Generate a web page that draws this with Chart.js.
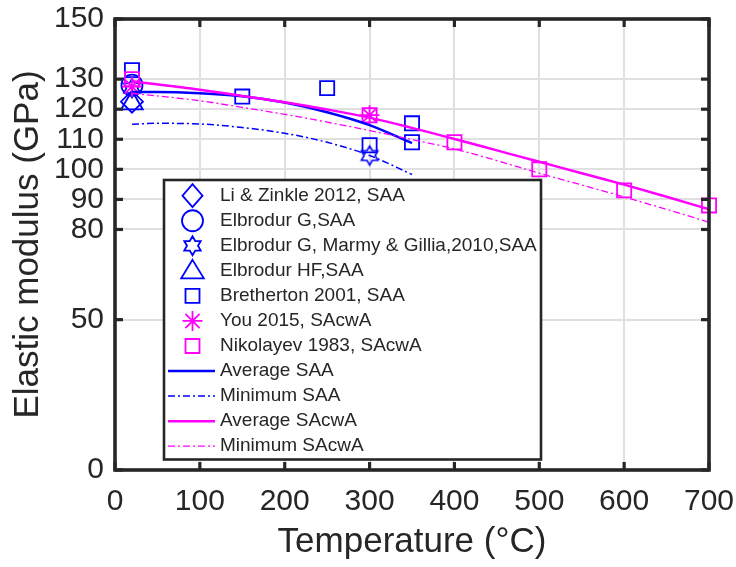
<!DOCTYPE html>
<html><head><meta charset="utf-8">
<script src="https://cdn.jsdelivr.net/npm/chart.js@4.4.0/dist/chart.umd.min.js"></script>
<style>html,body{margin:0;padding:0;background:#fff}#wrap{width:736px;height:567px}</style>
</head><body><div id="wrap"><canvas id="c" width="736" height="567"></canvas></div>
<script>
// ---- data ----
const xTicks = [0, 100, 200, 300, 400, 500, 600, 700];
const yTicks = [0, 50, 80, 90, 100, 110, 120, 130, 150];

const liZinkleT = [20];            const liZinkleE = [122.5];
const elbrodurGT = [20];           const elbrodurGE = [128];
const marmyT = [20, 300];          const marmyE = [127, 104.6];
const elbrodurHFT = [20];          const elbrodurHFE = [122];
const brethertonT = [20, 150, 250, 300, 350, 350];
const brethertonE = [133, 124.2, 127, 108, 115.3, 109];
const youT = [20, 300];            const youE = [127.5, 118];
const nikolayevT = [20, 300, 400, 500, 600, 700];
const nikolayevE = [130, 118, 109, 100, 93, 88];

const avgSAA_T = [20, 50, 100, 150, 200, 250, 300, 350];
const avgSAA_E = [125.7, 125.7, 125.3, 124.3, 122.2, 119, 114.7, 108.7];
const minSAA_T = [20, 50, 100, 150, 200, 250, 300, 350];
const minSAA_E = [115, 115.3, 115.1, 113.9, 112, 109, 104.6, 98.3];
const avgSAcwA_T = [20, 100, 150, 200, 250, 300, 350, 400, 450, 500, 550, 600, 650, 700];
const avgSAcwA_E = [129.3, 126.5, 124.4, 122.3, 119.9, 117.2, 113.8, 110.1, 106.3, 102.5, 98.7, 94.9, 90.9, 86.7];
const minSAcwA_T = [20, 100, 150, 200, 250, 300, 350, 400, 450, 500, 550, 600, 650, 700];
const minSAcwA_E = [125.3, 122.8, 120.6, 118.3, 115.7, 112.9, 109.9, 106.8, 102.9, 98.7, 94.8, 90.8, 86.7, 82.4];

const labels = ['Li & Zinkle 2012, SAA', 'Elbrodur G,SAA', 'Elbrodur G, Marmy & Gillia,2010,SAA',
  'Elbrodur HF,SAA', 'Bretherton 2001, SAA', 'You 2015, SAcwA', 'Nikolayev 1983, SAcwA',
  'Average SAA', 'Minimum SAA', 'Average SAcwA', 'Minimum SAcwA'];

// ---- helpers ----
const BLUE = '#0000ff', MAG = '#ff00ff', INK = '#262626';
const FONT = "'Liberation Sans', Arial, sans-serif";
const pts = (t, e) => t.map((v, i) => ({x: v, y: e[i]}));

function hexPath(g, cx, cy, r) {
  g.beginPath();
  for (let k = 0; k < 12; k++) {
    const a = -Math.PI / 2 + k * Math.PI / 6;
    const rr = k % 2 === 0 ? r : r / Math.sqrt(3);
    g.lineTo(cx + rr * Math.cos(a), cy + rr * Math.sin(a));
  }
  g.closePath();
}
function hexagramImg(r, color, lw) {
  const s = 2 * Math.ceil(r + lw + 1);
  const c = document.createElement('canvas'); c.width = s; c.height = s;
  const g = c.getContext('2d'); g.strokeStyle = color; g.lineWidth = lw;
  hexPath(g, s / 2, s / 2, r); g.stroke();
  return c;
}
const hexImg = hexagramImg(9.5, BLUE, 1.6);

function markerSet(label, t, e, style, radius, color, order) {
  return {label, data: pts(t, e), showLine: false, pointStyle: style, pointRadius: radius,
    pointHoverRadius: radius, pointBorderColor: color, pointBackgroundColor: 'rgba(0,0,0,0)',
    pointBorderWidth: 1.8, borderColor: color, clip: false, order};
}
function lineSet(label, t, e, color, width, dash, order) {
  return {label, data: pts(t, e), showLine: true, pointRadius: 0, pointHoverRadius: 0,
    borderColor: color, borderWidth: width, borderDash: dash, cubicInterpolationMode: 'monotone',
    fill: false, clip: false, order};
}

const datasets = [
  markerSet(labels[0], liZinkleT, liZinkleE, 'rectRot', 11, BLUE, 20),
  markerSet(labels[1], elbrodurGT, elbrodurGE, 'circle', 10.5, BLUE, 19),
  markerSet(labels[2], marmyT, marmyE, hexImg, 9.5, BLUE, 18),
  markerSet(labels[3], elbrodurHFT, elbrodurHFE, 'triangle', 12.5, BLUE, 17),
  markerSet(labels[4], brethertonT, brethertonE, 'rect', 10, BLUE, 16),
  markerSet(labels[5], youT, youE, 'star', 10, MAG, 15),
  markerSet(labels[6], nikolayevT, nikolayevE, 'rect', 10, MAG, 14),
  lineSet(labels[7], avgSAA_T, avgSAA_E, BLUE, 2.5, [], 13),
  lineSet(labels[8], minSAA_T, minSAA_E, BLUE, 1.5, [7, 3, 2, 3], 12),
  lineSet(labels[9], avgSAcwA_T, avgSAcwA_E, MAG, 2.5, [], 11),
  lineSet(labels[10], minSAcwA_T, minSAcwA_E, MAG, 1.3, [7, 3, 2, 3], 10)
];

const legendItems = [
  {kind: 'diamond', color: BLUE}, {kind: 'circle', color: BLUE}, {kind: 'hex', color: BLUE},
  {kind: 'triangle', color: BLUE}, {kind: 'square', color: BLUE}, {kind: 'star', color: MAG},
  {kind: 'square', color: MAG}, {kind: 'line', color: BLUE, w: 2.5, dash: []},
  {kind: 'line', color: BLUE, w: 1.5, dash: [7, 3, 2, 3]}, {kind: 'line', color: MAG, w: 2.5, dash: []},
  {kind: 'line', color: MAG, w: 1.3, dash: [7, 3, 2, 3]}
];

function drawLegendMarker(ctx, it, x, y) {
  ctx.save();
  ctx.strokeStyle = it.color; ctx.lineWidth = 1.8; ctx.setLineDash([]);
  ctx.beginPath();
  if (it.kind === 'diamond') { ctx.moveTo(x, y - 11.5); ctx.lineTo(x + 10, y); ctx.lineTo(x, y + 11.5); ctx.lineTo(x - 10, y); ctx.closePath(); }
  else if (it.kind === 'circle') { ctx.arc(x, y, 10.5, 0, Math.PI * 2); }
  else if (it.kind === 'hex') { hexPath(ctx, x, y, 9.5); }
  else if (it.kind === 'triangle') { ctx.moveTo(x, y - 11); ctx.lineTo(x + 11.3, y + 7.5); ctx.lineTo(x - 11.3, y + 7.5); ctx.closePath(); }
  else if (it.kind === 'square') { ctx.rect(x - 7, y - 7, 14, 14); }
  else if (it.kind === 'star') {
    const r = 10, d = r * Math.SQRT1_2;
    ctx.moveTo(x - r, y); ctx.lineTo(x + r, y); ctx.moveTo(x, y - r); ctx.lineTo(x, y + r);
    ctx.moveTo(x - d, y - d); ctx.lineTo(x + d, y + d); ctx.moveTo(x - d, y + d); ctx.lineTo(x + d, y - d);
  } else if (it.kind === 'line') {
    ctx.lineWidth = it.w; ctx.setLineDash(it.dash);
    ctx.moveTo(168, y); ctx.lineTo(215, y);
  }
  ctx.stroke();
  ctx.restore();
}

const framePlugin = {
  id: 'frame',
  afterDatasetsDraw(chart) {
    const {ctx, chartArea: a, scales: {x, y}} = chart;
    ctx.save();
    ctx.strokeStyle = INK; ctx.setLineDash([]);
    const seg = (x1, y1, x2, y2) => { ctx.beginPath(); ctx.moveTo(x1, y1); ctx.lineTo(x2, y2); ctx.stroke(); };
    ctx.lineWidth = 3.2;
    xTicks.forEach(v => { const p = x.getPixelForValue(v); seg(p, a.bottom, p, a.bottom - 8); seg(p, a.top, p, a.top + 8); });
    yTicks.forEach(v => { const p = y.getPixelForValue(v); seg(a.left, p, a.left + 8, p); seg(a.right, p, a.right - 8, p); });
    ctx.lineWidth = 3.6;
    ctx.strokeRect(a.left, a.top, a.right - a.left, a.bottom - a.top);

    // legend
    const L = 164, T = 180, R = 541, B = 459.5;
    ctx.fillStyle = '#ffffff'; ctx.fillRect(L, T, R - L, B - T);
    ctx.lineWidth = 2.6; ctx.strokeStyle = INK; ctx.strokeRect(L, T, R - L, B - T);
    ctx.font = '19px ' + FONT; ctx.fillStyle = INK; ctx.textBaseline = 'middle'; ctx.textAlign = 'left';
    labels.forEach((lab, i) => {
      const yy = 195.7 + 25.05 * i;
      drawLegendMarker(ctx, legendItems[i], 192.5, yy);
      ctx.fillStyle = INK;
      ctx.fillText(lab, 220, yy);
    });
    ctx.restore();
  }
};

new Chart(document.getElementById('c'), {
  type: 'scatter',
  data: {datasets},
  options: {
    responsive: false, animation: false, devicePixelRatio: 1,
    layout: {padding: {left: 0, right: 27, top: 19, bottom: 0}},
    plugins: {legend: {display: false}, tooltip: {enabled: false}},
    scales: {
      x: {
        type: 'linear', min: 0, max: 700,
        afterBuildTicks: s => { s.ticks = xTicks.map(v => ({value: v})); },
        afterFit: s => { s.height = 97; s.paddingLeft = 0; s.paddingRight = 0; },
        ticks: {font: {family: FONT, size: 30}, color: INK, padding: 14, autoSkip: false, maxRotation: 0},
        grid: {color: '#e0e0e0', lineWidth: 2, drawTicks: false},
        border: {display: false},
        title: {display: true, text: 'Temperature (°C)', font: {family: FONT, size: 35}, color: INK, padding: {top: 0, bottom: 4}}
      },
      y: {
        type: 'linear', min: 0, max: 150,
        afterBuildTicks: s => { s.ticks = yTicks.map(v => ({value: v})); },
        afterFit: s => { s.width = 115; s.paddingTop = 0; s.paddingBottom = 0; },
        ticks: {font: {family: FONT, size: 30}, color: INK, padding: 11, autoSkip: false},
        grid: {color: '#e0e0e0', lineWidth: 2, drawTicks: false},
        border: {display: false},
        title: {display: true, text: 'Elastic modulus (GPa)', font: {family: FONT, size: 35}, color: INK, padding: {top: 7, bottom: 0}}
      }
    }
  },
  plugins: [framePlugin]
});
</script></body></html>
